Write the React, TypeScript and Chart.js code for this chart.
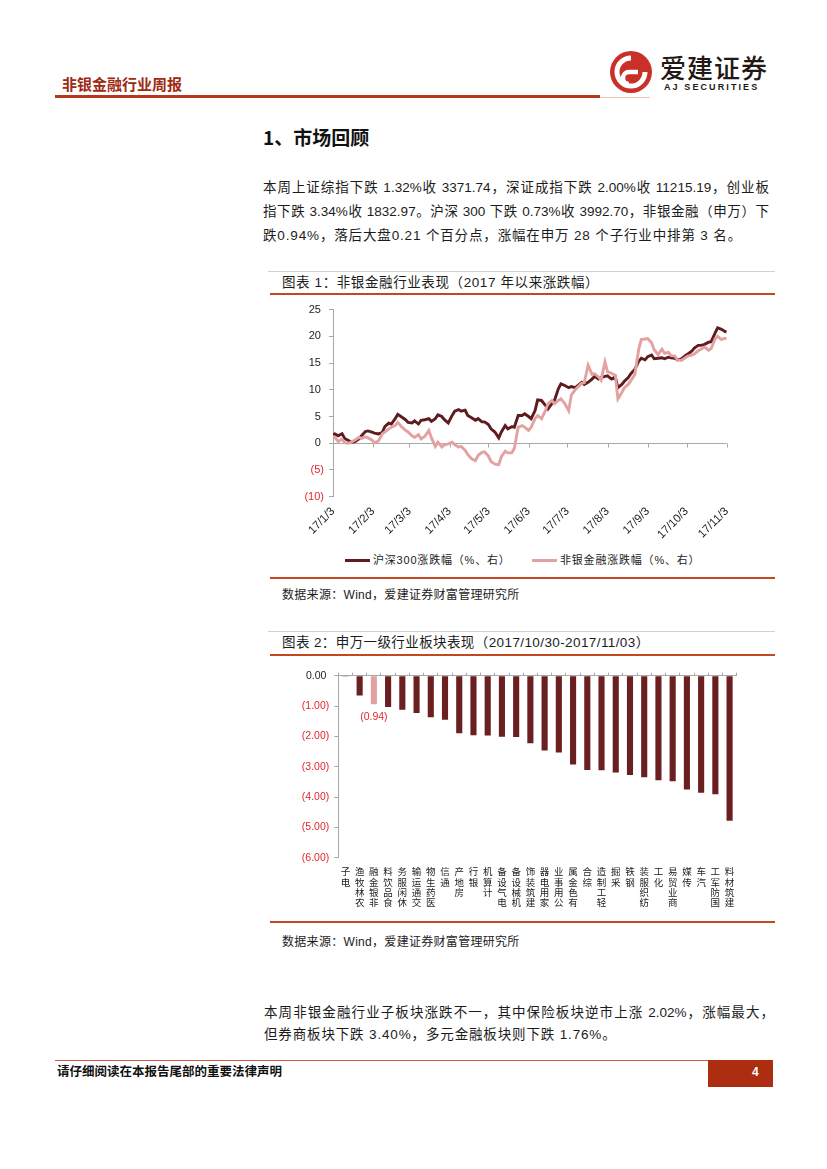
import React, { useEffect, useRef } from "react";
import { Chart, registerables } from "chart.js";

Chart.register(...registerables);

// ---------------- Chart 1 data (day offsets from 2017-01-03) ----------------
const lineDays = [
  0, 1.5, 4, 7, 9, 12, 14, 17, 20, 22, 25, 27, 30, 32, 35, 38, 40, 43, 45, 48, 50, 53, 56, 58, 61, 63, 66, 68, 71, 74, 76, 79, 81, 84, 86, 89, 92, 94, 97,
  99, 102, 104, 107, 110, 112, 115, 117, 120, 122, 125, 128, 130, 133, 135, 138, 140, 143, 146, 148, 151, 153, 156, 158, 161, 164, 166, 169, 171, 174, 176, 179, 182, 184, 187, 189, 192, 194, 197, 200, 202, 205,
  207, 210, 212, 215, 218, 220, 223, 225, 228, 230, 233, 236, 238, 241, 243, 246, 248, 251, 254, 256, 259, 261, 264, 266, 269, 272, 274, 277, 279, 282, 284, 287, 290, 292, 295, 297, 300, 302, 304,
];
const hs300Change = [
  1.6, 1.75, 1.4, 1.8, 0.9, 0.5, 0.2, 0.3, 0.8, 1.4, 2.2, 2.3, 2.1, 1.9, 1.75, 2.0, 3.1, 3.75, 3.6, 4.6, 5.4, 4.9, 4.4, 3.9, 3.8, 4.2, 3.6, 4.3, 4.4, 4.6, 4.1, 4.6, 5.3, 5.0, 4.4, 3.8, 5.2, 6.0, 6.3,
  6.0, 6.2, 5.2, 4.75, 4.3, 4.6, 4.0, 4.0, 3.5, 2.7, 2.1, 1.0, 2.1, 3.3, 2.7, 3.1, 3.0, 5.2, 5.2, 5.5, 5.0, 4.6, 6.1, 8.1, 8.0, 7.1, 6.4, 7.4, 8.0, 10.2, 11.1, 10.8, 10.4, 10.6, 10.4, 10.8, 11.4, 11.0, 11.4, 12.0, 12.5, 12.0,
  12.3, 12.5, 12.6, 12.0, 12.4, 10.4, 11.0, 11.6, 12.3, 13.0, 13.8, 15.3, 15.9, 15.6, 16.2, 16.5, 15.8, 15.9, 16.0, 15.8, 16.1, 16.0, 15.9, 15.6, 15.8, 16.4, 16.7, 17.2, 17.8, 18.3, 18.3, 18.5, 18.9, 19.0, 20.6, 21.6, 21.3, 21.0, 20.8,
];
const nonBankChange = [
  1.3, 1.1, 0.3, 0.8, 0.1, 0.0, 0.2, 0.6, 1.1, 0.9, 1.2, 1.0, 0.6, 0.1, 0.4, 1.75, 2.1, 2.7, 3.0, 3.3, 3.9, 3.1, 2.4, 2.1, 1.4, 1.1, 1.6, 0.8, 1.3, 2.4, 1.0, -0.6, 0.2, -0.7, -0.3, -0.1, 0.2, -0.3, -0.7,
  -0.6, -1.3, -2.1, -2.9, -3.25, -2.3, -1.7, -1.6, -2.4, -3.4, -3.9, -4.0, -2.5, -1.5, -1.8, -1.8, -1.0, 3.0, 3.3, 3.0, 2.4, 3.0, 4.6, 5.2, 4.6, 6.1, 7.4, 8.0, 7.4, 8.0, 8.3, 7.4, 6.1, 9.0, 10.0, 10.5, 11.2, 11.3, 14.6, 12.9, 13.0, 12.4,
  11.8, 15.2, 13.4, 13.1, 12.7, 8.3, 9.5, 10.4, 11.0, 11.7, 12.8, 17.5, 19.4, 19.5, 19.6, 18.8, 17.5, 16.6, 17.6, 16.8, 17.0, 16.4, 16.3, 15.6, 15.5, 16.0, 16.3, 16.5, 16.7, 17.3, 17.6, 18.0, 17.4, 17.7, 19.5, 20.0, 19.4, 19.6, 19.6,
];
const monthTickDays = [0, 31, 59, 90, 120, 151, 181, 212, 243, 273, 304];
const monthTickLabels = ["17/1/3", "17/2/3", "17/3/3", "17/4/3", "17/5/3", "17/6/3", "17/7/3", "17/8/3", "17/9/3", "17/10/3", "17/11/3"];
const lineYMin = -10;
const lineYMax = 25;
const lineYStep = 5;
const seriesNames = ["沪深300涨跌幅（%、右）", "非银金融涨跌幅（%、右）"];

// ---------------- Chart 2 data ----------------
const industries = [
  "电子", "农林牧渔", "非银金融", "食品饮料", "休闲服务", "交通运输", "医药生物", "通信", "房地产", "银行",
  "计算机", "电气设备", "机械设备", "建筑装饰", "家用电器", "公用事业", "有色金属", "综合", "轻工制造", "采掘",
  "钢铁", "纺织服装", "化工", "商业贸易", "传媒", "汽车", "国防军工", "建筑材料",
];
const industryChange = [
  -0.03, -0.65, -0.94, -1.03, -1.12, -1.23, -1.37, -1.45, -1.9, -1.96,
  -1.97, -2.01, -2.02, -2.23, -2.47, -2.53, -2.93, -3.11, -3.12, -3.19,
  -3.27, -3.35, -3.45, -3.48, -3.75, -3.86, -3.91, -4.78,
];
const highlightIndustry = "非银金融";
const barYMin = -6;
const barYMax = 0;

// ---------------- styles ----------------
const AXIS = "#a8a8a8";
const DARK = "#5f1c1f";
const PINK = "#e3a1a1";
const NEG_RED = "#e3262c";
const TEXT = "#1c1c1c";
const BRAND = "#b8381c";
const FONT = '"Liberation Sans", Arial, "Noto Sans CJK SC", sans-serif';
const CJK = '"Noto Sans CJK SC", "Liberation Sans", sans-serif';

const zeroAxisPlugin = {
  id: "zeroAxis",
  beforeDatasetsDraw(chart: any) {
    const { ctx, scales } = chart;
    const x = scales.x;
    const y = scales.y;
    const y0 = Math.round(y.getPixelForValue(0)) + 0.5;
    ctx.save();
    ctx.strokeStyle = AXIS;
    ctx.lineWidth = 1;
    ctx.beginPath();
    ctx.moveTo(x.left, y0);
    ctx.lineTo(x.right, y0);
    x.ticks.forEach((t: any) => {
      const px = Math.round(x.getPixelForValue(t.value)) + 0.5;
      ctx.moveTo(px, y0);
      ctx.lineTo(px, y0 + 4);
    });
    ctx.stroke();
    ctx.restore();
  },
};

function fmtAcct(v: number) {
  return v < 0 ? `(${Math.abs(v).toFixed(2)})` : `${v.toFixed(2)} `;
}

const barLabelPlugin = {
  id: "barLabel",
  afterDatasetsDraw(chart: any) {
    const idx = industries.indexOf(highlightIndustry);
    const el = chart.getDatasetMeta(0).data[idx];
    if (!el) return;
    const { ctx } = chart;
    ctx.save();
    ctx.fillStyle = NEG_RED;
    ctx.font = `10.5px ${FONT}`;
    ctx.textAlign = "center";
    ctx.textBaseline = "middle";
    ctx.fillText(fmtAcct(industryChange[idx]), el.x, el.y + 13);
    ctx.restore();
  },
};

function LineChart() {
  const ref = useRef<HTMLCanvasElement>(null);
  useEffect(() => {
    const chart = new Chart(ref.current as HTMLCanvasElement, {
      type: "line",
      data: {
        datasets: [
          {
            label: seriesNames[1],
            data: lineDays.map((d, i) => ({ x: d, y: nonBankChange[i] })),
            borderColor: PINK,
            backgroundColor: PINK,
            borderWidth: 2.9,
            pointRadius: 0,
            tension: 0,
          },
          {
            label: seriesNames[0],
            data: lineDays.map((d, i) => ({ x: d, y: hs300Change[i] })),
            borderColor: DARK,
            backgroundColor: DARK,
            borderWidth: 2.9,
            pointRadius: 0,
            tension: 0,
          },
        ],
      },
      options: {
        animation: false,
        responsive: false,
        devicePixelRatio: 1,
        layout: { padding: { top: 11.3, right: 58.3, left: 0, bottom: 0 } },
        scales: {
          x: {
            type: "linear",
            min: monthTickDays[0],
            max: monthTickDays[monthTickDays.length - 1],
            afterBuildTicks: (scale: any) => {
              scale.ticks = monthTickDays.map((v) => ({ value: v }));
            },
            afterFit: (scale: any) => {
              scale.height = 51.3;
            },
            grid: { display: false, drawTicks: false },
            border: { display: false },
            ticks: {
              autoSkip: false,
              minRotation: 45,
              maxRotation: 45,
              padding: 8,
              color: TEXT,
              font: { family: FONT, size: 11.5 },
              callback: (_v: any, i: number) => monthTickLabels[i],
            },
          },
          y: {
            min: lineYMin,
            max: lineYMax,
            afterFit: (scale: any) => {
              scale.width = 68;
            },
            grid: { drawOnChartArea: false, tickLength: 4, color: AXIS },
            border: { color: AXIS },
            ticks: {
              stepSize: lineYStep,
              padding: 5,
              font: { family: FONT, size: 11 },
              color: (ctx: any) => (ctx.tick && ctx.tick.value < 0 ? NEG_RED : TEXT),
              callback: (v: any) => (v < 0 ? `(${-v})` : `${v} `),
            },
          },
        },
        plugins: { legend: { display: false }, tooltip: { enabled: false } },
      },
      plugins: [zeroAxisPlugin],
    } as any);
    return () => chart.destroy();
  }, []);
  return <canvas ref={ref} width={520} height={250} style={{ position: "absolute", left: 265, top: 298, width: 520, height: 250 }} />;
}

function BarChart() {
  const ref = useRef<HTMLCanvasElement>(null);
  useEffect(() => {
    const chart = new Chart(ref.current as HTMLCanvasElement, {
      type: "bar",
      data: {
        // vertical labels: upright characters stacked, read from the bottom up
        labels: industries.map((name) => Array.from(name).reverse()),
        datasets: [
          {
            data: industryChange,
            backgroundColor: industries.map((n) => (n === highlightIndustry ? PINK : "#6a1f21")),
            categoryPercentage: 1,
            barPercentage: 0.43,
            xAxisID: "x",
            yAxisID: "y",
          },
        ],
      },
      options: {
        animation: false,
        responsive: false,
        devicePixelRatio: 1,
        layout: { padding: { top: 12.7, right: 48.3, left: 0, bottom: 0 } },
        scales: {
          x: {
            position: "bottom",
            afterFit: (scale: any) => {
              scale.height = 62.3;
            },
            grid: { display: false, drawTicks: false },
            border: { display: false },
            ticks: {
              autoSkip: false,
              minRotation: 0,
              maxRotation: 0,
              padding: 9,
              color: TEXT,
              font: { family: CJK, size: 9.5, lineHeight: 1.08 },
            },
          },
          xTop: {
            type: "category",
            position: "top",
            offset: true,
            afterFit: (scale: any) => {
              scale.height = 3;
            },
            grid: { offset: true, drawOnChartArea: false, tickLength: 3, color: AXIS },
            border: { color: AXIS },
            ticks: { display: false },
          },
          y: {
            min: barYMin,
            max: barYMax,
            afterFit: (scale: any) => {
              scale.width = 73.3;
            },
            grid: { drawOnChartArea: false, tickLength: 4, color: AXIS },
            border: { color: AXIS },
            ticks: {
              stepSize: 1,
              padding: 5,
              font: { family: FONT, size: 10.5 },
              color: (ctx: any) => (ctx.tick && ctx.tick.value < 0 ? NEG_RED : TEXT),
              callback: (v: any) => fmtAcct(Number(v)),
            },
          },
        },
        plugins: { legend: { display: false }, tooltip: { enabled: false } },
      },
      plugins: [barLabelPlugin],
    } as any);
    return () => chart.destroy();
  }, []);
  return <canvas ref={ref} width={520} height={260} style={{ position: "absolute", left: 265, top: 660, width: 520, height: 260 }} />;
}

const abs = (left: number, top: number, extra: React.CSSProperties = {}): React.CSSProperties => ({
  position: "absolute",
  left,
  top,
  ...extra,
});

function TextLine({ x, y, w, text, justify, size = 13.5 }: { x: number; y: number; w: number; text: string; justify?: boolean; size?: number }) {
  return (
    <div
      style={abs(x, y - 10, {
        width: w,
        height: 20,
        lineHeight: "20px",
        fontSize: size,
        fontFamily: FONT,
        color: TEXT,
        textAlign: justify ? "justify" : "left",
        textAlignLast: justify ? "justify" : "left",
        whiteSpace: justify ? "normal" : "nowrap",
        letterSpacing: justify ? 0 : 0.85,
      } as React.CSSProperties)}
    >
      {text}
    </div>
  );
}

function Logo() {
  return (
    <>
      <svg style={abs(608, 49)} width={46} height={46} viewBox="0 0 46 46">
        <circle cx={23} cy={23} r={21} fill="#c9302a" />
        <path d="M 23 9 A 14 14 0 1 0 37 23" stroke="#fff" strokeWidth={5} fill="none" />
        <path d="M 30 23 L 21 23 A 6 6 0 0 0 21 35" stroke="#fff" strokeWidth={4.5} fill="none" />
      </svg>
      <div style={abs(660, 52, { fontFamily: CJK, fontSize: 26, lineHeight: "30px", color: "#231815", letterSpacing: 1, fontWeight: 500 })}>爱建证券</div>
      <div style={abs(664, 81, { fontFamily: FONT, fontSize: 9, fontWeight: 700, lineHeight: "12px", color: "#231815", letterSpacing: 2.1 })}>AJ SECURITIES</div>
    </>
  );
}

export default function App() {
  const hr = (x: number, y: number, w: number, h: number, c: string) => <div style={abs(x, y, { width: w, height: h, background: c })} />;
  return (
    <div style={{ position: "absolute", left: 0, top: 0, width: 827, height: 1169, background: "#fff", overflow: "hidden", fontFamily: FONT }}>
      {/* header */}
      <div style={abs(62, 74, { fontFamily: CJK, fontSize: 15, fontWeight: 700, lineHeight: "20px", color: "#9e2a12" })}>非银金融行业周报</div>
      {hr(55, 95, 545, 2.5, BRAND)}
      {hr(600, 96.5, 50, 1, "#ecc4b6")}
      <Logo />

      {/* section title */}
      <div style={abs(263, 125, { fontFamily: CJK, fontSize: 19, fontWeight: 700, lineHeight: "24px", color: "#111" })}>1、市场回顾</div>

      <TextLine x={263} y={187.5} w={506} justify text="本周上证综指下跌 1.32%收 3371.74，深证成指下跌 2.00%收 11215.19，创业板" />
      <TextLine x={263} y={211.7} w={506} justify text="指下跌 3.34%收 1832.97。沪深 300 下跌 0.73%收 3992.70，非银金融（申万）下" />
      <TextLine x={263} y={235.9} w={506} text="跌0.94%，落后大盘0.21 个百分点，涨幅在申万 28 个子行业中排第 3 名。" />

      {/* chart 1 frame */}
      {hr(268, 271, 507, 1, "#d0d0d0")}
      <div style={abs(282, 274, { fontFamily: FONT, fontSize: 13.5, lineHeight: "18px", color: TEXT, letterSpacing: 0.6, whiteSpace: "nowrap" })}>
        图表 1：非银金融行业表现（2017 年以来涨跌幅）
      </div>
      {hr(270, 293, 505, 2, "#c4481f")}
      <LineChart />
      {/* legend */}
      {hr(345, 558.5, 25, 3.5, DARK)}
      <div style={abs(373, 552, { fontFamily: FONT, fontSize: 11, lineHeight: "16px", color: TEXT, whiteSpace: "nowrap", letterSpacing: 0.8 })}>{seriesNames[0]}</div>
      {hr(532, 558.5, 25, 3.5, PINK)}
      <div style={abs(560, 552, { fontFamily: FONT, fontSize: 11, lineHeight: "16px", color: TEXT, whiteSpace: "nowrap", letterSpacing: 0.8 })}>{seriesNames[1]}</div>
      {hr(270, 577, 505, 2, "#c4481f")}
      <div style={abs(282, 587, { fontFamily: FONT, fontSize: 12, lineHeight: "16px", color: TEXT, whiteSpace: "nowrap", letterSpacing: 0.3 })}>数据来源：Wind，爱建证券财富管理研究所</div>

      {/* chart 2 frame */}
      {hr(268, 631, 507, 1, "#d0d0d0")}
      <div style={abs(282, 634, { fontFamily: FONT, fontSize: 13.5, lineHeight: "18px", color: TEXT, letterSpacing: 0.4, whiteSpace: "nowrap" })}>
        图表 2：申万一级行业板块表现（2017/10/30-2017/11/03）
      </div>
      {hr(270, 653.5, 505, 2, "#c4481f")}
      <BarChart />
      {hr(270, 921, 505, 2, "#c4481f")}
      <div style={abs(282, 934, { fontFamily: FONT, fontSize: 12, lineHeight: "16px", color: TEXT, whiteSpace: "nowrap", letterSpacing: 0.3 })}>数据来源：Wind，爱建证券财富管理研究所</div>

      <TextLine x={264} y={1012.5} w={510} justify text="本周非银金融行业子板块涨跌不一，其中保险板块逆市上涨 2.02%，涨幅最大，" />
      <TextLine x={264} y={1035} w={510} text="但券商板块下跌 3.40%，多元金融板块则下跌 1.76%。" />

      {/* footer */}
      {hr(55, 1060, 653, 1, "#d9534f")}
      <div style={abs(57, 1063, { fontFamily: CJK, fontSize: 12.5, fontWeight: 700, lineHeight: "16px", color: "#111", whiteSpace: "nowrap" })}>请仔细阅读在本报告尾部的重要法律声明</div>
      <div style={abs(708, 1060, { width: 65, height: 27, background: "#ad2d10" })} />
      <div style={abs(752, 1064, { fontFamily: FONT, fontSize: 12, fontWeight: 700, lineHeight: "16px", color: "#fff" })}>4</div>
    </div>
  );
}
